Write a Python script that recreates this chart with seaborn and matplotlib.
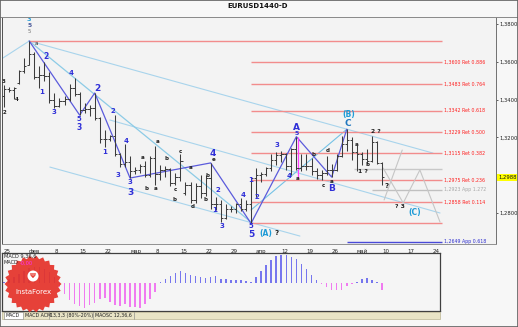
import matplotlib
matplotlib.use("Agg")
import matplotlib.pyplot as plt
import matplotlib.transforms as mtransforms
from matplotlib.patches import Rectangle, Polygon, Circle
from matplotlib.lines import Line2D
import numpy as np
import pandas as pd
import seaborn as sns

sns.set_style("white")
plt.rcParams['font.family'] = ['DejaVu Sans']

# ---------------- data (EURUSD daily, Jan 25 .. May 10) ----------------
opens = [1.3420, 1.3455, 1.3450, 1.3490, 1.3550, 1.3585, 1.3640, 1.3520, 1.3530, 1.3525,
         1.3400, 1.3365, 1.3395, 1.3405, 1.3460, 1.3430, 1.3345, 1.3350, 1.3355, 1.3300,
         1.3190, 1.3190, 1.3205, 1.3110, 1.3060, 1.3070, 1.3020, 1.3030, 1.3050, 1.3000,
         1.3090, 1.3005, 1.3030, 1.3035, 1.2960, 1.2990, 1.2905, 1.2950, 1.2870, 1.2945,
         1.2905, 1.2985, 1.2850, 1.2850, 1.2775, 1.2820, 1.2820, 1.2845, 1.2820, 1.2845,
         1.2985, 1.3000, 1.3005, 1.3040, 1.3080, 1.3105, 1.3110, 1.3050, 1.3140, 1.3040,
         1.3050, 1.3050, 1.3020, 1.3000, 1.3010, 1.3025, 1.3030, 1.3100, 1.3165, 1.3185,
         1.3125, 1.3110, 1.3085, 1.3075, 1.3175, 1.3065]
highs = [1.3478, 1.3468, 1.3465, 1.3558, 1.3620, 1.3710, 1.3650, 1.3580, 1.3600, 1.3545,
         1.3435, 1.3410, 1.3420, 1.3480, 1.3512, 1.3438, 1.3380, 1.3370, 1.3435, 1.3308,
         1.3240, 1.3215, 1.3318, 1.3117, 1.3165, 1.3100, 1.3043, 1.3060, 1.3075, 1.3100,
         1.3155, 1.3054, 1.3050, 1.3040, 1.3010, 1.3110, 1.2965, 1.2965, 1.2960, 1.3000,
         1.3000, 1.3065, 1.2885, 1.2870, 1.2850, 1.2835, 1.2855, 1.2880, 1.2870, 1.2990,
         1.3038, 1.3015, 1.3045, 1.3110, 1.3125, 1.3130, 1.3115, 1.3145, 1.3204, 1.3110,
         1.3110, 1.3090, 1.3040, 1.3030, 1.3100, 1.3060, 1.3110, 1.3205, 1.3243, 1.3200,
         1.3160, 1.3125, 1.3140, 1.3210, 1.3180, 1.3068]
lows = [1.3362, 1.3440, 1.3405, 1.3485, 1.3540, 1.3585, 1.3510, 1.3460, 1.3500, 1.3380,
        1.3355, 1.3360, 1.3370, 1.3390, 1.3420, 1.3318, 1.3330, 1.3315, 1.3290, 1.3170,
        1.3150, 1.3180, 1.3100, 1.3043, 1.3045, 1.2985, 1.3005, 1.3010, 1.2990, 1.2990,
        1.2950, 1.2975, 1.2990, 1.2945, 1.2948, 1.2970, 1.2895, 1.2855, 1.2855, 1.2880,
        1.2890, 1.2820, 1.2815, 1.2752, 1.2770, 1.2805, 1.2800, 1.2810, 1.2810, 1.2745,
        1.2885, 1.2965, 1.2995, 1.3020, 1.3055, 1.3070, 1.3030, 1.3000, 1.3030, 1.3020,
        1.3030, 1.3000, 1.2980, 1.2975, 1.3000, 1.2990, 1.3020, 1.3095, 1.3130, 1.3080,
        1.3020, 1.3055, 1.3060, 1.3070, 1.3060, 1.2950]
closes = [1.3455, 1.3450, 1.3460, 1.3550, 1.3580, 1.3640, 1.3520, 1.3530, 1.3525, 1.3400,
          1.3365, 1.3395, 1.3405, 1.3460, 1.3430, 1.3345, 1.3350, 1.3355, 1.3300, 1.3190,
          1.3190, 1.3205, 1.3110, 1.3060, 1.3070, 1.3020, 1.3030, 1.3050, 1.3000, 1.3090,
          1.3005, 1.3030, 1.3035, 1.2960, 1.2990, 1.3075, 1.2950, 1.2870, 1.2945, 1.2905,
          1.2985, 1.2850, 1.2850, 1.2775, 1.2820, 1.2820, 1.2845, 1.2820, 1.2845, 1.2985,
          1.3000, 1.3005, 1.3040, 1.3080, 1.3105, 1.3110, 1.3050, 1.3140, 1.3040, 1.3050,
          1.3050, 1.3020, 1.3000, 1.3010, 1.3025, 1.3030, 1.3100, 1.3165, 1.3185, 1.3125,
          1.3110, 1.3085, 1.3075, 1.3175, 1.3065, 1.2988]

# MACD(9,36,6) histogram, units of 1e-4
macd_hist = [1, 4, 6, 9, 12, 15, 16, 16, 14, 11,
             6, -4, -11, -17, -21, -23, -25, -22, -20, -16,
             -15, -19, -22, -23, -21, -24, -24, -25, -21, -16,
             -9, 1, 4, 7, 10, 12, 10, 8, 7, 6,
             5, 6, 7, 4, 4, 3, 3, 3, 2, 1,
             6, 12, 18, 23, 27, 28, 28, 26, 24, 19,
             14, 8, 3, -1, -4, -7, -7, -7, -3, -1,
             1, 4, 5, 3, 1, -7]

date_tick_idx = [0, 5, 10, 15, 20, 25, 30, 35, 40, 45, 50, 55, 60, 65, 70, 75, 80, 85]
date_tick_lbl = ["25", "фев", "8", "15", "22", "мар", "8", "15", "22", "29",
                 "апр", "12", "19", "26", "май", "10", "17", "24"]

price_ticks = [1.3800, 1.3600, 1.3400, 1.3200, 1.2800]
price_tick_lbl = ["1,3800", "1,3600", "1,3400", "1,3200", "1,2800"]
last_price_lbl = "1,2988"

# Fibonacci retracement levels (from the 1.2745 low to the 1.3711 high)
fib_levels = [1.3711, 1.3600, 1.3483, 1.3342, 1.3229, 1.3115, 1.2975, 1.2858, 1.2745]
fib_labels = ["", "1,3600 Ret 0.886", "1,3483 Ret 0.764", "1,3342 Ret 0.618",
              "1,3229 Ret 0.500", "1,3115 Ret 0.382", "1,2975 Ret 0.236",
              "1,2858 Ret 0.114", ""]
fib_start = [5, 49, 49, 49, 49, 49, 49, 49, 49]
fib_end = 86.9
ext_levels = [1.3033, 1.2923, 1.2649]
ext_labels = ["", "1,2923 App 1.272", "1,2649 App 0.618"]
ext_start = [69.4, 73.0, 68.0]
ext_colors = ["#c8c8c8", "#c0c0c0", "#4a4ad8"]
ext_text_colors = ["#a0a0a0", "#a8a8a8", "#3030d0"]

# Elliott wave pivots (bar index, price)
wave_i = [5, 15, 18, 25, 41, 49, 58, 65, 68]
wave_p = [1.3710, 1.3318, 1.3435, 1.2985, 1.3065, 1.2745, 1.3204, 1.2990, 1.3243]

# channel / trend lines: (i0, p0, i1, p1)
channel_lines = [
    (-0.8, 1.3610, 5.0, 1.3710),
    (5.0, 1.3710, 85.1, 1.3117),
    (9.1, 1.3043, 58.7, 1.2678),
    (21.0, 1.3292, 86.5, 1.2800),
]
main_channel = (5.0, 1.3710, 49.0, 1.2752)
cyan_line = (49.0, 1.2816, 68.0, 1.3243)
proj_i = [75.2, 79.2, 82.5, 86.5]
proj_p = [1.3038, 1.2853, 1.3028, 1.2752]
proj2 = (75.4, 1.2869, 79.0, 1.3133)

BLUE = "#2f2fd8"
CYAN = "#1e9bd7"
BLK = "#202020"
wave_labels = [
    ("3", 5, 1.3824, CYAN, 4.6, "bold"), ("5", 5, 1.3790, "#4a5a9a", 4.3, "bold"),
    ("5", 5, 1.3758, "#707070", 3.8, "normal"), ("a", 6.4, 1.3699, BLK, 3.8, "normal"),
    ("2", 8.3, 1.3628, BLUE, 5.5, "bold"), ("1", 7.5, 1.3440, BLUE, 5, "bold"),
    ("4", 13.3, 1.3541, BLUE, 5, "bold"), ("3", 9.9, 1.3334, BLUE, 5, "bold"),
    ("5", 14.9, 1.3297, BLUE, 5, "bold"), ("3", 14.9, 1.3250, BLUE, 5.5, "bold"),
    ("2", 18.5, 1.3460, BLUE, 6.5, "bold"), ("1", 20.0, 1.3123, BLUE, 5, "bold"),
    ("2", 21.6, 1.3340, BLUE, 5, "bold"), ("3", 22.6, 1.3001, BLUE, 5, "bold"),
    ("4", 24.2, 1.3180, BLUE, 5, "bold"), ("3", 25.0, 1.2965, BLUE, 5, "bold"),
    ("3", 25.0, 1.2911, BLUE, 6.5, "bold"), ("4", 41.5, 1.3117, BLUE, 6.5, "bold"),
    ("2", 42.5, 1.2922, BLUE, 5, "bold"), ("1", 41.7, 1.2816, BLUE, 5, "bold"),
    ("3", 43.3, 1.2733, BLUE, 5, "bold"), ("4", 47.4, 1.2897, BLUE, 5, "bold"),
    ("5", 49.0, 1.2733, BLUE, 5, "bold"), ("5", 49.0, 1.2684, BLUE, 6.5, "bold"),
    ("1", 49.0, 1.2975, BLUE, 5, "bold"), ("2", 50.2, 1.2885, BLUE, 5, "bold"),
    ("3", 54.2, 1.3160, BLUE, 5, "bold"), ("4", 56.5, 1.2998, BLUE, 5, "bold"),
    ("A", 58.1, 1.3252, BLUE, 6.5, "bold"), ("5", 58.1, 1.3220, BLUE, 4.5, "bold"),
    ("B", 64.9, 1.2930, BLUE, 6.5, "bold"), ("C", 68.3, 1.3276, "#2078c0", 6.5, "bold"),
    ("(B)", 68.3, 1.3320, CYAN, 5.5, "bold"), ("(A)", 51.9, 1.2694, CYAN, 5.5, "bold"),
    ("?", 54.0, 1.2694, BLK, 5, "bold"), ("(C)", 81.5, 1.2805, CYAN, 5.5, "bold"),
    ("? 3", 78.6, 1.2832, BLK, 4.3, "bold"), ("?", 75.9, 1.2943, BLK, 5, "bold"),
    ("2 ?", 73.8, 1.3229, BLK, 4.3, "bold"), ("1 ?", 71.2, 1.3022, BLK, 4.3, "bold"),
    ("a", 70.0, 1.3165, BLK, 4, "bold"), ("b", 72.2, 1.3059, BLK, 4, "bold"),
    ("d", 64.3, 1.3133, BLK, 4, "bold"), ("c", 63.3, 1.2943, BLK, 4, "bold"),
    ("a", 64.9, 1.2969, BLK, 4, "bold"), ("b", 61.3, 1.3112, BLK, 4, "bold"),
    ("a", 58.3, 1.2980, BLK, 4, "bold"),
    ("a", 30.4, 1.3177, BLK, 4, "bold"), ("b", 32.3, 1.3091, BLK, 4, "bold"),
    ("a", 27.4, 1.3096, BLK, 4, "bold"), ("b", 28.3, 1.2932, BLK, 4, "bold"),
    ("a", 30.0, 1.2932, BLK, 4, "bold"), ("c", 33.9, 1.2922, BLK, 4, "bold"),
    ("b", 33.9, 1.2874, BLK, 4, "bold"), ("c", 34.9, 1.3128, BLK, 4, "bold"),
    ("a", 37.1, 1.3043, BLK, 4, "bold"), ("b", 40.3, 1.2996, BLK, 4, "bold"),
    ("b", 39.9, 1.2874, BLK, 4, "bold"), ("d", 37.5, 1.2832, BLK, 4, "bold"),
    ("e", 41.5, 1.3082, BLK, 4, "bold"),
    ("3", 0.0, 1.3498, BLK, 4, "bold"), ("2", 0.0, 1.3334, BLK, 4, "bold"),
    ("4", 2.6, 1.3403, BLK, 4, "bold"),
]

# ---------------- figure ----------------
W, H = 518, 327
fig = plt.figure(figsize=(W / 100, H / 100), dpi=100)
fig.patch.set_facecolor("#f7f7f7")


def fr(x0, y0, x1, y1):
    return [x0 / W, 1 - y1 / H, (x1 - x0) / W, (y1 - y0) / H]


ax = fig.add_axes(fr(2, 17, 496, 244))
ax.set_facecolor("#f3f3f3")
ax.set_xlim(-0.4, 97.6)
ax.set_ylim(1.2636, 1.3837)

# channel lines
for (i0, p0, i1, p1) in channel_lines:
    ax.plot([i0, i1], [p0, p1], color="#a8d4ec", lw=0.8, zorder=1)
ax.plot([main_channel[0], main_channel[2]], [main_channel[1], main_channel[3]],
        color="#8ccbe6", lw=0.9, zorder=1)
ax.plot([cyan_line[0], cyan_line[2]], [cyan_line[1], cyan_line[3]],
        color="#74c2e6", lw=0.8, zorder=1)

# fib lines
for lv, lb, st in zip(fib_levels, fib_labels, fib_start):
    ax.hlines(lv, st, fib_end, color="#f28c8c", lw=1.0, zorder=1)
    if lb:
        ax.text(fib_end + 0.3, lv, lb, color="#ff2020", fontsize=3.4,
                va="center", ha="left")
for lv, lb, st, c, tc in zip(ext_levels, ext_labels, ext_start, ext_colors, ext_text_colors):
    ax.hlines(lv, st, fib_end, color=c, lw=1.0, zorder=1)
    if lb:
        ax.text(fib_end + 0.3, lv, lb, color=tc, fontsize=3.4, va="center", ha="left")

# projection
ax.plot(proj_i, proj_p, color="#c6c6c6", lw=0.8, zorder=1)
ax.plot([proj2[0], proj2[2]], [proj2[1], proj2[3]], color="#c6c6c6", lw=0.8, zorder=1)

# wave path
wdf = pd.DataFrame({"i": wave_i, "p": wave_p})
sns.lineplot(data=wdf, x="i", y="p", sort=False, estimator=None, color="#5b5bdc",
             lw=0.9, ax=ax, zorder=2)
ax.vlines(wave_i[6] + 0.3, 1.2985, wave_p[6], color="#ff40ff", lw=0.9, zorder=2)

# OHLC bars
idx = np.arange(len(opens))
ax.vlines(idx, lows, highs, color="#3c3c3c", lw=0.75, zorder=3)
ax.hlines(opens, idx - 0.45, idx, color="#3c3c3c", lw=0.7, zorder=3)
ax.hlines(closes, idx, idx + 0.45, color="#3c3c3c", lw=0.7, zorder=3)

for t, xi, yp, c, fs, fw in wave_labels:
    ax.text(xi, yp, t, color=c, fontsize=fs, fontweight=fw, ha="center",
            va="center", zorder=4)

# axes styling
ax.yaxis.tick_right()
ax.set_yticks(price_ticks)
ax.set_yticklabels(price_tick_lbl)
ax.tick_params(axis="y", length=1.5, pad=0.8, width=0.5, labelsize=3.8, colors="#222222")
ax.set_xticks(date_tick_idx)
ax.set_xticklabels(date_tick_lbl, ha="left")
ax.tick_params(axis="x", length=2.5, pad=1, width=0.5, labelsize=4, colors="#222222")
ax.set_xlabel("")
ax.set_ylabel("")
ax.spines["top"].set_visible(False)
ax.spines["left"].set_color("#505050")
ax.spines["right"].set_color("#707070")
ax.spines["bottom"].set_color("#909090")
for s in ax.spines.values():
    s.set_linewidth(0.7)

trans = mtransforms.blended_transform_factory(ax.transAxes, ax.transData)
ax.text(1.004, closes[-1], last_price_lbl, transform=trans, fontsize=3.8, va="center",
        ha="left", color="#111111",
        bbox=dict(boxstyle="square,pad=0.15", fc="#ffff00", ec="none"))

# title strip
fig.add_artist(Line2D([0, 1], [1 - 17 / H, 1 - 17 / H], color="#888888", lw=0.7))
fig.text(258 / W, 1 - 6 / H, "EURUSD1440-D", fontsize=5, fontweight="bold",
         ha="center", va="center", color="#111111")

# ---------------- MACD panel ----------------
ax2 = fig.add_axes(fr(2, 253, 440, 311))
ax2.set_facecolor("#f5f5f5")
mdf = pd.DataFrame({"i": idx, "v": macd_hist,
                    "s": ["up" if v >= 0 else "dn" for v in macd_hist]})
sns.barplot(data=mdf, x="i", y="v", hue="s", palette={"up": "#7676ee", "dn": "#f07af0"},
            native_scale=True, width=0.3, dodge=False, legend=False, saturation=1,
            errorbar=None, linewidth=0, ax=ax2)
ax2.set_xlim(-0.4, 86.5)
ax2.set_ylim(-28, 30)
ax2.set_xticks([])
ax2.set_yticks([])
ax2.set_xlabel("")
ax2.set_ylabel("")
for s in ax2.spines.values():
    s.set_color("#404040")
    s.set_linewidth(0.9)

# InstaForex badge
disp = mtransforms.IdentityTransform()
cx, cy = 33, 284
n = 26
ang = np.linspace(0, 2 * np.pi, 2 * n, endpoint=False)
rad = np.where(np.arange(2 * n) % 2 == 0, 28.5, 25.5)
pts = np.column_stack([cx + rad * np.cos(ang), H - (cy + rad * np.sin(ang))])
fig.add_artist(Polygon(pts, closed=True, fc="#e5332a", ec="none", alpha=0.93,
                       transform=disp, zorder=5))
fig.add_artist(Circle((cx, H - 276), 5.5, fc="white", ec="none", transform=disp, zorder=6))
fig.text(cx / W, 1 - 276 / H, "Ψ", color="#e5332a", fontsize=5, fontweight="bold",
         ha="center", va="center", zorder=7)
fig.text(cx / W, 1 - 292 / H, "InstaForex", color="white", fontsize=5,
         ha="center", va="center", zorder=7)

fig.text(4 / W, 1 - 256.5 / H, "MACD 9,36,6", fontsize=3.6, color="#222222",
         va="center", ha="left", zorder=8)
fig.text(4 / W, 1 - 263 / H, "MACD", fontsize=3.6, color="#222222",
         va="center", ha="left", zorder=8)
fig.text(19.5 / W, 1 - 263 / H, "-0,00", fontsize=3.6, color="#ff30ff",
         va="center", ha="left", zorder=8)

# tab bar
fig.add_artist(Rectangle((2 / W, 1 - 319 / H), 438 / W, 7.5 / H, fc="#e9e4c6",
                         ec="#b0a880", lw=0.4, transform=fig.transFigure, zorder=4))
fig.add_artist(Rectangle((4 / W, 1 - 318.5 / H), 19 / W, 6.5 / H, fc="white",
                         ec="#808080", lw=0.4, transform=fig.transFigure, zorder=9))
tabs = [("MACD", 6), ("MACD ACM", 25), ("13,3,3 (80%-20%)", 50.5), ("MAOSC 12,36,6", 95)]
for t, x in tabs:
    fig.text(x / W, 1 - 315.2 / H, t, fontsize=3.4, color="#202020", va="center",
             ha="left", zorder=10)
for x in [48.5, 92.5, 133.5]:
    fig.add_artist(Line2D([x / W, x / W], [1 - 318.5 / H, 1 - 312 / H], color="#808080",
                          lw=0.4, zorder=10))

# outer frame
fig.add_artist(Rectangle((0, 0), 1, 1, fill=False, ec="#606060", lw=1.2,
                         transform=fig.transFigure, zorder=20))

fig.savefig("out.png", dpi=100, facecolor=fig.get_facecolor())
